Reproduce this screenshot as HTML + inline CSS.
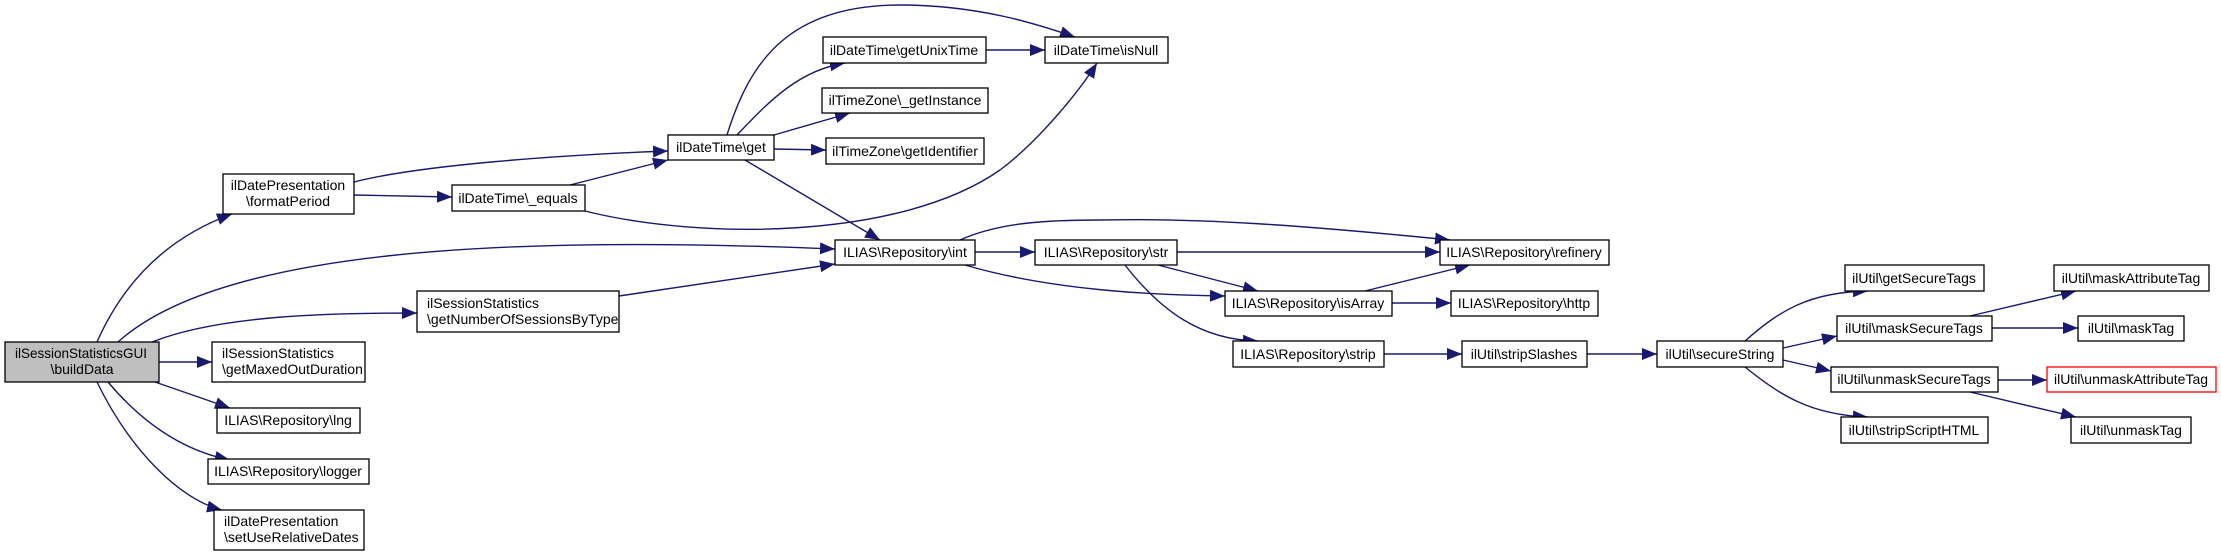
<!DOCTYPE html>
<html><head><meta charset="utf-8"><style>
html,body{margin:0;padding:0;background:#fff;}
svg{display:block;}
text{font-family:"Liberation Sans",Arial,sans-serif;font-size:14px;fill:#000;}
</style></head><body>
<svg width="2221" height="556" viewBox="0 0 2221 556" xmlns="http://www.w3.org/2000/svg">
<defs>
<marker id="a" markerUnits="userSpaceOnUse" markerWidth="16" markerHeight="12" refX="15" refY="6" orient="auto">
<path d="M0,0 L15,6 L0,12 z" fill="#191970"/>
</marker>
</defs>
<g fill="none" stroke="#191970" stroke-width="1.4" marker-end="url(#a)">
<path d="M97,342 C120,290 160,240 232,214"/>
<path d="M118,342 C220,250 500,235 835,249"/>
<path d="M152,342 C220,315 330,313 417,313"/>
<path d="M159,362 L212,362"/>
<path d="M155,382 L230,408"/>
<path d="M108,382 C140,420 180,450 230,460"/>
<path d="M97,382 C130,450 180,500 222,510"/>
<path d="M354,182 C420,165 560,155 668,151"/>
<path d="M354,195 L452,197"/>
<path d="M570,185 L668,160"/>
<path d="M585,211 C700,240 900,240 1000,170 C1040,140 1080,90 1097,63"/>
<path d="M727,135 C750,60 790,5 900,5 C980,5 1040,25 1075,37"/>
<path d="M737,135 C770,100 800,70 845,63"/>
<path d="M774,135 L850,113"/>
<path d="M774,149 L826,150"/>
<path d="M745,160 L880,240"/>
<path d="M986,50 L1045,50"/>
<path d="M619,296 L835,264"/>
<path d="M975,252 L1035,252"/>
<path d="M960,240 C1000,222 1050,220 1100,220 C1200,218 1300,225 1450,240"/>
<path d="M965,265 C1050,290 1150,295 1225,296"/>
<path d="M1177,252 L1440,252"/>
<path d="M1158,265 L1258,291"/>
<path d="M1125,265 C1160,310 1200,340 1258,341"/>
<path d="M1365,291 L1470,265"/>
<path d="M1392,303 L1451,303"/>
<path d="M1384,354 L1462,354"/>
<path d="M1587,354 L1657,354"/>
<path d="M1745,341 C1780,310 1810,292 1868,291"/>
<path d="M1783,348 L1837,336"/>
<path d="M1783,360 L1831,371"/>
<path d="M1745,367 C1780,395 1810,415 1868,417"/>
<path d="M1970,316 L2076,291"/>
<path d="M1992,328 L2078,328"/>
<path d="M1998,380 L2047,380"/>
<path d="M1970,392 L2076,417"/>
</g>
<g stroke="#000" stroke-width="1.3" fill="#fff">
<rect x="5" y="342" width="154" height="40" fill="#bfbfbf"/>
<rect x="223" y="174" width="131" height="40"/>
<rect x="452" y="185" width="133" height="26"/>
<rect x="668" y="135" width="106" height="25"/>
<rect x="823" y="37" width="163" height="26"/>
<rect x="822" y="88" width="166" height="25"/>
<rect x="826" y="138" width="158" height="26"/>
<rect x="1045" y="37" width="123" height="26"/>
<rect x="835" y="240" width="140" height="25"/>
<rect x="1035" y="240" width="142" height="25"/>
<rect x="417" y="291" width="202" height="41"/>
<rect x="212" y="342" width="153" height="40"/>
<rect x="217" y="408" width="143" height="25"/>
<rect x="208" y="459" width="161" height="25"/>
<rect x="214" y="510" width="150" height="40"/>
<rect x="1440" y="240" width="169" height="25"/>
<rect x="1225" y="291" width="167" height="25"/>
<rect x="1451" y="291" width="147" height="25"/>
<rect x="1233" y="341" width="151" height="26"/>
<rect x="1462" y="341" width="125" height="26"/>
<rect x="1657" y="341" width="126" height="26"/>
<rect x="1845" y="265" width="139" height="26"/>
<rect x="1837" y="316" width="155" height="25"/>
<rect x="1831" y="367" width="167" height="25"/>
<rect x="1841" y="417" width="147" height="26"/>
<rect x="2054" y="265" width="155" height="26"/>
<rect x="2078" y="316" width="106" height="25"/>
<rect x="2047" y="367" width="169" height="25" stroke="#ff0000"/>
<rect x="2071" y="417" width="120" height="26"/>
</g>
<g>
<text x="15" y="358" textLength="132" lengthAdjust="spacingAndGlyphs">ilSessionStatisticsGUI</text>
<text x="82" y="374" text-anchor="middle">\buildData</text>
<text x="288" y="190" text-anchor="middle">ilDatePresentation</text>
<text x="288" y="206" text-anchor="middle">\formatPeriod</text>
<text x="518" y="203" text-anchor="middle">ilDateTime\_equals</text>
<text x="721" y="152" text-anchor="middle">ilDateTime\get</text>
<text x="904" y="55" text-anchor="middle">ilDateTime\getUnixTime</text>
<text x="905" y="105" text-anchor="middle">ilTimeZone\_getInstance</text>
<text x="905" y="156" text-anchor="middle">ilTimeZone\getIdentifier</text>
<text x="1106" y="55" text-anchor="middle">ilDateTime\isNull</text>
<text x="905" y="257" text-anchor="middle">ILIAS\Repository\int</text>
<text x="1106" y="257" text-anchor="middle">ILIAS\Repository\str</text>
<text x="427" y="308">ilSessionStatistics</text>
<text x="427" y="324">\getNumberOfSessionsByType</text>
<text x="222" y="358">ilSessionStatistics</text>
<text x="222" y="374">\getMaxedOutDuration</text>
<text x="288" y="425" text-anchor="middle">ILIAS\Repository\lng</text>
<text x="288" y="476" text-anchor="middle">ILIAS\Repository\logger</text>
<text x="224" y="526">ilDatePresentation</text>
<text x="224" y="542">\setUseRelativeDates</text>
<text x="1524" y="257" text-anchor="middle">ILIAS\Repository\refinery</text>
<text x="1308" y="308" text-anchor="middle">ILIAS\Repository\isArray</text>
<text x="1524" y="308" text-anchor="middle">ILIAS\Repository\http</text>
<text x="1308" y="359" text-anchor="middle">ILIAS\Repository\strip</text>
<text x="1524" y="359" text-anchor="middle">ilUtil\stripSlashes</text>
<text x="1720" y="359" text-anchor="middle">ilUtil\secureString</text>
<text x="1914" y="283" text-anchor="middle">ilUtil\getSecureTags</text>
<text x="1914" y="333" text-anchor="middle">ilUtil\maskSecureTags</text>
<text x="1914" y="384" text-anchor="middle">ilUtil\unmaskSecureTags</text>
<text x="1914" y="435" text-anchor="middle">ilUtil\stripScriptHTML</text>
<text x="2131" y="283" text-anchor="middle">ilUtil\maskAttributeTag</text>
<text x="2131" y="333" text-anchor="middle">ilUtil\maskTag</text>
<text x="2131" y="384" text-anchor="middle">ilUtil\unmaskAttributeTag</text>
<text x="2131" y="435" text-anchor="middle">ilUtil\unmaskTag</text>
</g>
</svg>
</body></html>
